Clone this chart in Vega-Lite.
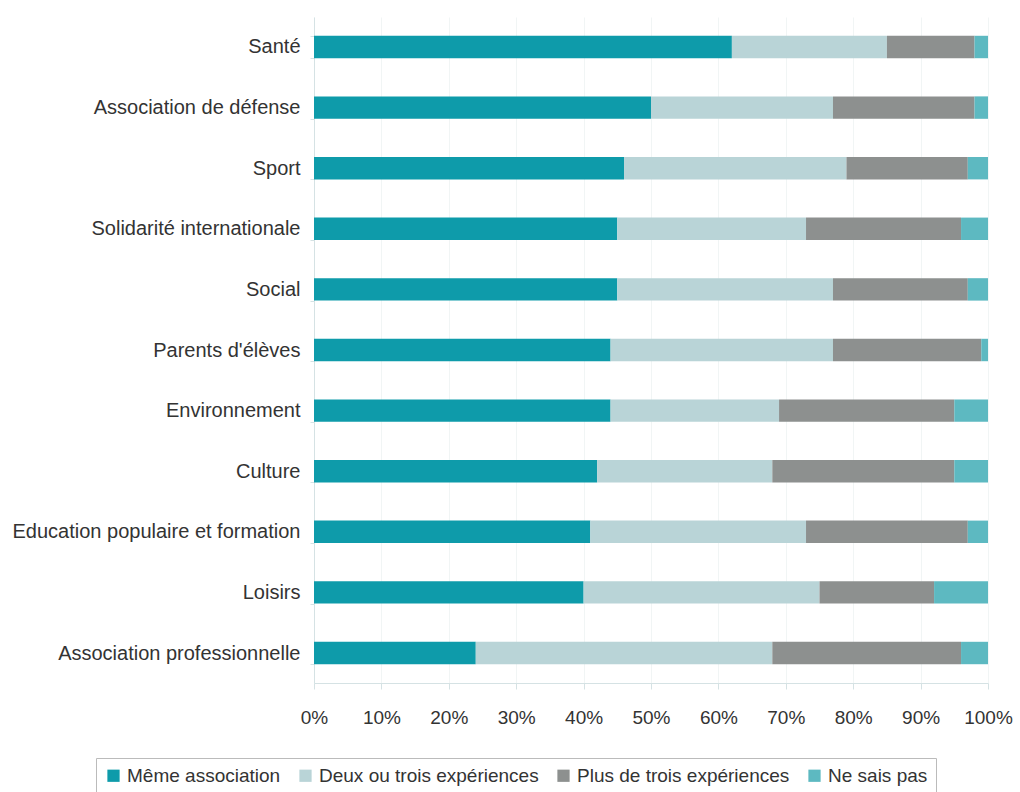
{
  "$schema": "https://vega.github.io/schema/vega-lite/v6.json",
  "width": 674,
  "height": 666,
  "autosize": {"type": "none"},
  "padding": {"left": 314, "top": 17, "right": 32, "bottom": 109},
  "background": "white",
  "config": {
    "view": {"stroke": null},
    "font": "Liberation Sans"
  },
  "data": {
    "values": [
      {"secteur": "Santé", "reponse": "Même association", "rang": 1, "part": 62},
      {"secteur": "Santé", "reponse": "Deux ou trois expériences", "rang": 2, "part": 23},
      {"secteur": "Santé", "reponse": "Plus de trois expériences", "rang": 3, "part": 13},
      {"secteur": "Santé", "reponse": "Ne sais pas", "rang": 4, "part": 2},
      {"secteur": "Association de défense", "reponse": "Même association", "rang": 1, "part": 50},
      {"secteur": "Association de défense", "reponse": "Deux ou trois expériences", "rang": 2, "part": 27},
      {"secteur": "Association de défense", "reponse": "Plus de trois expériences", "rang": 3, "part": 21},
      {"secteur": "Association de défense", "reponse": "Ne sais pas", "rang": 4, "part": 2},
      {"secteur": "Sport", "reponse": "Même association", "rang": 1, "part": 46},
      {"secteur": "Sport", "reponse": "Deux ou trois expériences", "rang": 2, "part": 33},
      {"secteur": "Sport", "reponse": "Plus de trois expériences", "rang": 3, "part": 18},
      {"secteur": "Sport", "reponse": "Ne sais pas", "rang": 4, "part": 3},
      {"secteur": "Solidarité internationale", "reponse": "Même association", "rang": 1, "part": 45},
      {"secteur": "Solidarité internationale", "reponse": "Deux ou trois expériences", "rang": 2, "part": 28},
      {"secteur": "Solidarité internationale", "reponse": "Plus de trois expériences", "rang": 3, "part": 23},
      {"secteur": "Solidarité internationale", "reponse": "Ne sais pas", "rang": 4, "part": 4},
      {"secteur": "Social", "reponse": "Même association", "rang": 1, "part": 45},
      {"secteur": "Social", "reponse": "Deux ou trois expériences", "rang": 2, "part": 32},
      {"secteur": "Social", "reponse": "Plus de trois expériences", "rang": 3, "part": 20},
      {"secteur": "Social", "reponse": "Ne sais pas", "rang": 4, "part": 3},
      {"secteur": "Parents d'élèves", "reponse": "Même association", "rang": 1, "part": 44},
      {"secteur": "Parents d'élèves", "reponse": "Deux ou trois expériences", "rang": 2, "part": 33},
      {"secteur": "Parents d'élèves", "reponse": "Plus de trois expériences", "rang": 3, "part": 22},
      {"secteur": "Parents d'élèves", "reponse": "Ne sais pas", "rang": 4, "part": 1},
      {"secteur": "Environnement", "reponse": "Même association", "rang": 1, "part": 44},
      {"secteur": "Environnement", "reponse": "Deux ou trois expériences", "rang": 2, "part": 25},
      {"secteur": "Environnement", "reponse": "Plus de trois expériences", "rang": 3, "part": 26},
      {"secteur": "Environnement", "reponse": "Ne sais pas", "rang": 4, "part": 5},
      {"secteur": "Culture", "reponse": "Même association", "rang": 1, "part": 42},
      {"secteur": "Culture", "reponse": "Deux ou trois expériences", "rang": 2, "part": 26},
      {"secteur": "Culture", "reponse": "Plus de trois expériences", "rang": 3, "part": 27},
      {"secteur": "Culture", "reponse": "Ne sais pas", "rang": 4, "part": 5},
      {"secteur": "Education populaire et formation", "reponse": "Même association", "rang": 1, "part": 41},
      {"secteur": "Education populaire et formation", "reponse": "Deux ou trois expériences", "rang": 2, "part": 32},
      {"secteur": "Education populaire et formation", "reponse": "Plus de trois expériences", "rang": 3, "part": 24},
      {"secteur": "Education populaire et formation", "reponse": "Ne sais pas", "rang": 4, "part": 3},
      {"secteur": "Loisirs", "reponse": "Même association", "rang": 1, "part": 40},
      {"secteur": "Loisirs", "reponse": "Deux ou trois expériences", "rang": 2, "part": 35},
      {"secteur": "Loisirs", "reponse": "Plus de trois expériences", "rang": 3, "part": 17},
      {"secteur": "Loisirs", "reponse": "Ne sais pas", "rang": 4, "part": 8},
      {"secteur": "Association professionnelle", "reponse": "Même association", "rang": 1, "part": 24},
      {"secteur": "Association professionnelle", "reponse": "Deux ou trois expériences", "rang": 2, "part": 44},
      {"secteur": "Association professionnelle", "reponse": "Plus de trois expériences", "rang": 3, "part": 28},
      {"secteur": "Association professionnelle", "reponse": "Ne sais pas", "rang": 4, "part": 4}
    ]
  },
  "mark": {"type": "bar"},
  "encoding": {
    "y": {
      "field": "secteur",
      "type": "nominal",
      "sort": null,
      "scale": {"paddingInner": 0.63, "paddingOuter": 0.31},
      "axis": {
        "title": null,
        "domainColor": "#D5E2E4",
        "tickColor": "#D5E2E4",
        "tickBand": "extent",
        "tickSize": 4,
        "labelFontSize": 20,
        "labelColor": "#333333",
        "labelPadding": 10,
        "labelLimit": 400
      }
    },
    "x": {
      "field": "part",
      "type": "quantitative",
      "stack": "zero",
      "scale": {"domain": [0, 100], "nice": false},
      "axis": {
        "title": null,
        "values": [0, 10, 20, 30, 40, 50, 60, 70, 80, 90, 100],
        "labelExpr": "datum.value + '%'",
        "labelOverlap": false,
        "labelFlush": false,
        "domainColor": "#D5E2E4",
        "tickColor": "#D5E2E4",
        "tickSize": 6,
        "grid": true,
        "gridColor": "#F1F5F5",
        "labelFontSize": 19,
        "labelColor": "#333333",
        "labelPadding": 19
      }
    },
    "color": {
      "field": "reponse",
      "type": "nominal",
      "scale": {
        "domain": ["Même association", "Deux ou trois expériences", "Plus de trois expériences", "Ne sais pas"],
        "range": ["#0E9BAA", "#B9D4D7", "#8D908F", "#5DB9C1"]
      },
      "legend": {
        "title": null,
        "orient": "none",
        "direction": "horizontal",
        "legendX": -218,
        "legendY": 741,
        "strokeColor": "#BBBBBB",
        "padding": 8,
        "symbolType": "square",
        "symbolSize": 150,
        "symbolStrokeWidth": 0,
        "symbolOpacity": 1,
        "labelFontSize": 19,
        "labelColor": "#333333",
        "labelLimit": 400,
        "labelOffset": 4,
        "columnPadding": 15
      }
    },
    "order": {"field": "rang", "type": "quantitative"}
  }
}
